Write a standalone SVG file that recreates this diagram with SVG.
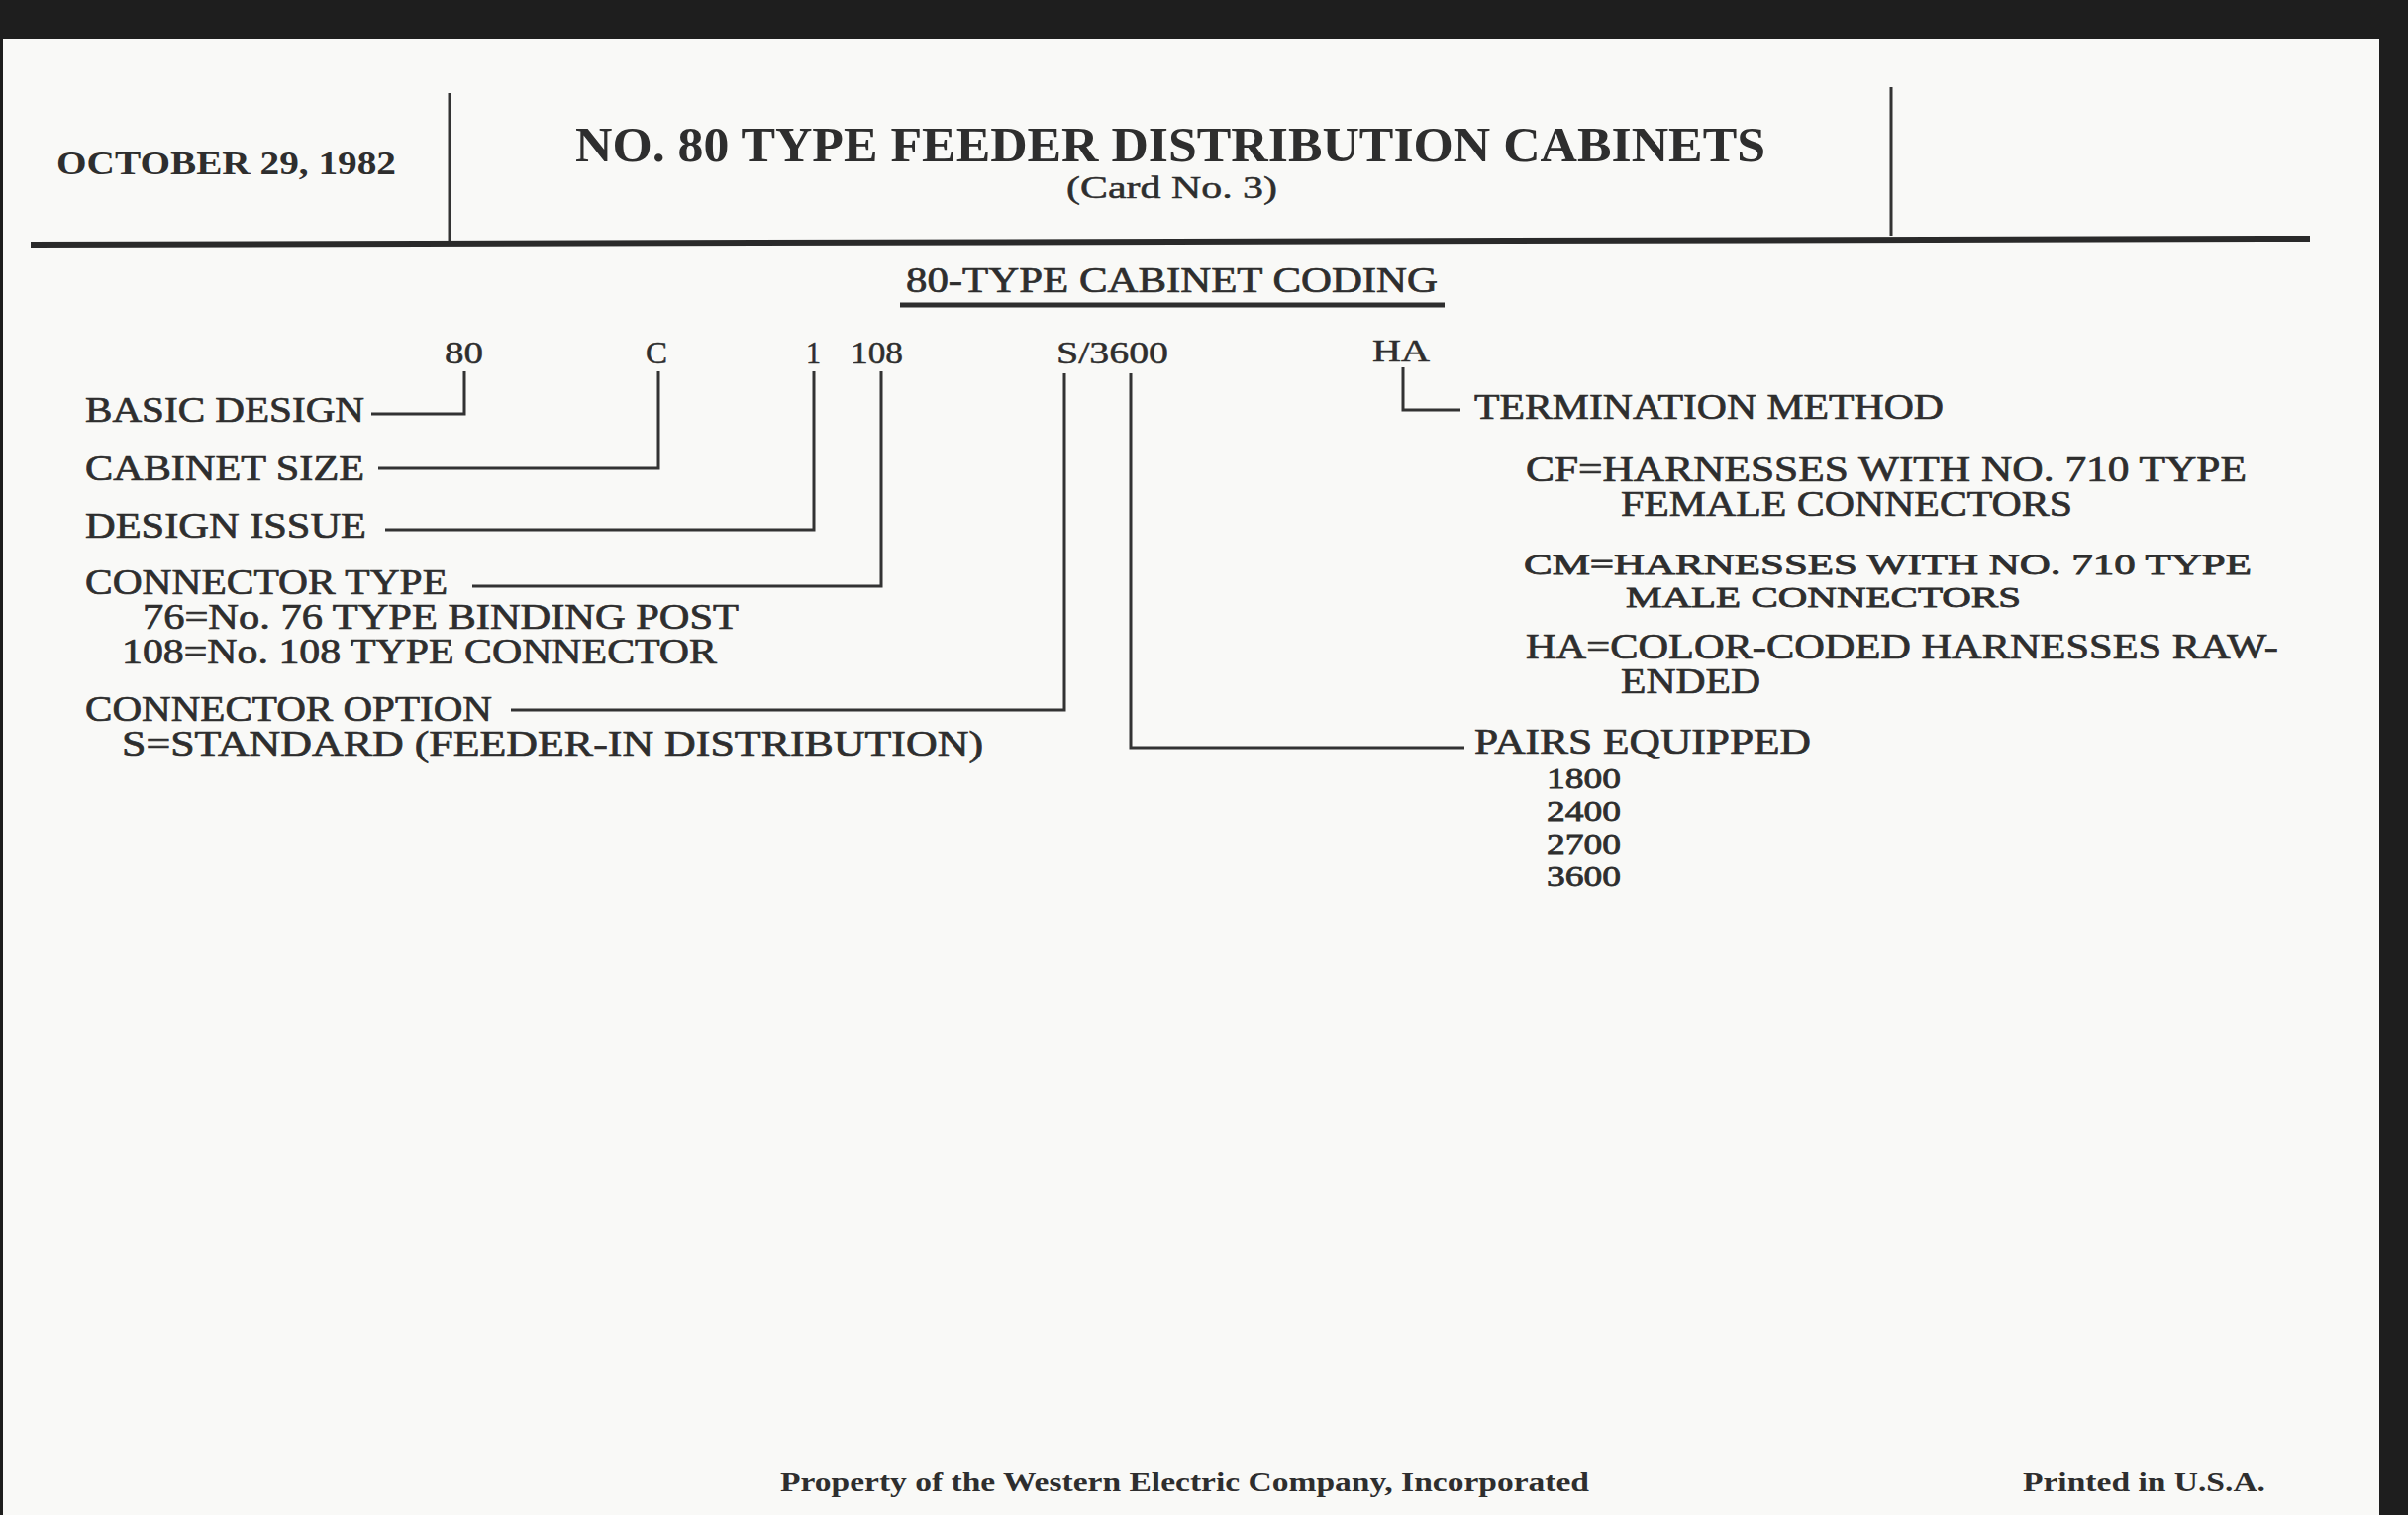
<svg xmlns="http://www.w3.org/2000/svg" width="2432" height="1530" viewBox="0 0 2432 1530">
<style>
text{font-family:"Liberation Serif","DejaVu Serif",serif;fill:#2e2e2e;}
.hd{font-weight:bold;}
.lb{font-size:35px;stroke:#2e2e2e;stroke-width:0.7px;}
.sm{font-size:29px;stroke:#2e2e2e;stroke-width:0.8px;}
.cd{font-size:32px;stroke:#2e2e2e;stroke-width:0.5px;}
.ft{font-weight:bold;font-size:28px;}
.ln{fill:none;stroke:#333;stroke-width:3;}
</style>
<rect x="0" y="0" width="2432" height="1530" fill="#1e1e1e"/>
<rect x="3" y="39" width="2400" height="1491" fill="#f9f9f7"/>
<g id="header">
<line x1="454" y1="94" x2="454" y2="243" class="ln"/>
<line x1="1910" y1="88" x2="1910" y2="238" class="ln"/>
<line x1="31" y1="247" x2="2333" y2="241" stroke="#2a2a2a" stroke-width="6"/>
<text class="hd" x="57" y="176" font-size="33" textLength="343" lengthAdjust="spacingAndGlyphs">OCTOBER 29, 1982</text>
<text class="hd" x="581" y="163" font-size="50" textLength="1202" lengthAdjust="spacingAndGlyphs">NO. 80 TYPE FEEDER DISTRIBUTION CABINETS</text>
<text x="1077" y="200" font-size="31" stroke="#2e2e2e" stroke-width="0.5" textLength="213" lengthAdjust="spacingAndGlyphs">(Card No. 3)</text>
</g>
<g id="coding-title">
<text x="915" y="295" font-size="35" stroke="#2e2e2e" stroke-width="0.7" textLength="537" lengthAdjust="spacingAndGlyphs">80-TYPE CABINET CODING</text>
<line x1="909" y1="308" x2="1459" y2="308" stroke="#2e2e2e" stroke-width="5"/>
</g>
<g id="connectors">
<path class="ln" d="M469,375 V418 H375"/>
<path class="ln" d="M665,375 V473 H382"/>
<path class="ln" d="M822,375 V535 H389"/>
<path class="ln" d="M890,375 V592 H477"/>
<path class="ln" d="M1075,377 V717 H516"/>
<path class="ln" d="M1142,377 V755 H1479"/>
<path class="ln" d="M1417,371 V414 H1475"/>
</g>
<g id="code-80"><text class="cd" x="449" y="367" textLength="39" lengthAdjust="spacingAndGlyphs">80</text></g>
<g id="code-C"><text class="cd" x="652" y="367" textLength="22" lengthAdjust="spacingAndGlyphs">C</text></g>
<g id="code-1"><text class="cd" x="814" y="367" textLength="15" lengthAdjust="spacingAndGlyphs">1</text></g>
<g id="code-108"><text class="cd" x="859" y="367" textLength="53" lengthAdjust="spacingAndGlyphs">108</text></g>
<g id="code-S3600"><text class="cd" x="1067" y="367" textLength="113" lengthAdjust="spacingAndGlyphs">S/3600</text></g>
<g id="code-HA"><text class="cd" x="1386" y="365" textLength="58" lengthAdjust="spacingAndGlyphs">HA</text></g>
<g id="basic-design"><text class="lb" x="86" y="426" textLength="282" lengthAdjust="spacingAndGlyphs">BASIC DESIGN</text></g>
<g id="cabinet-size"><text class="lb" x="86" y="485" textLength="282" lengthAdjust="spacingAndGlyphs">CABINET SIZE</text></g>
<g id="design-issue"><text class="lb" x="86" y="543" textLength="284" lengthAdjust="spacingAndGlyphs">DESIGN ISSUE</text></g>
<g id="connector-type">
<text class="lb" x="86" y="600" textLength="366" lengthAdjust="spacingAndGlyphs">CONNECTOR TYPE</text>
<text class="lb" x="144" y="635" textLength="602" lengthAdjust="spacingAndGlyphs">76=No. 76 TYPE BINDING POST</text>
<text class="lb" x="123" y="670" textLength="601" lengthAdjust="spacingAndGlyphs">108=No. 108 TYPE CONNECTOR</text>
</g>
<g id="connector-option">
<text class="lb" x="86" y="728" textLength="411" lengthAdjust="spacingAndGlyphs">CONNECTOR OPTION</text>
<text class="lb" x="123" y="763" textLength="870" lengthAdjust="spacingAndGlyphs">S=STANDARD (FEEDER-IN DISTRIBUTION)</text>
</g>
<g id="termination-method">
<text class="lb" x="1489" y="423" textLength="474" lengthAdjust="spacingAndGlyphs">TERMINATION METHOD</text>
<text class="lb" x="1541" y="486" textLength="728" lengthAdjust="spacingAndGlyphs">CF=HARNESSES WITH NO. 710 TYPE</text>
<text class="lb" x="1637" y="521" textLength="456" lengthAdjust="spacingAndGlyphs">FEMALE CONNECTORS</text>
<text class="sm" x="1539" y="580" textLength="735" lengthAdjust="spacingAndGlyphs">CM=HARNESSES WITH NO. 710 TYPE</text>
<text class="sm" x="1642" y="613" textLength="399" lengthAdjust="spacingAndGlyphs">MALE CONNECTORS</text>
<text class="lb" x="1541" y="665" textLength="760" lengthAdjust="spacingAndGlyphs">HA=COLOR-CODED HARNESSES RAW-</text>
<text class="lb" x="1637" y="700" textLength="141" lengthAdjust="spacingAndGlyphs">ENDED</text>
</g>
<g id="pairs-equipped">
<text class="lb" x="1489" y="761" textLength="340" lengthAdjust="spacingAndGlyphs">PAIRS EQUIPPED</text>
<text class="sm" x="1562" y="796" textLength="75" lengthAdjust="spacingAndGlyphs">1800</text>
<text class="sm" x="1562" y="829" textLength="75" lengthAdjust="spacingAndGlyphs">2400</text>
<text class="sm" x="1562" y="862" textLength="75" lengthAdjust="spacingAndGlyphs">2700</text>
<text class="sm" x="1562" y="895" textLength="75" lengthAdjust="spacingAndGlyphs">3600</text>
</g>
<g id="footer">
<text class="ft" x="788" y="1506" textLength="817" lengthAdjust="spacingAndGlyphs">Property of the Western Electric Company, Incorporated</text>
<text class="ft" x="2043" y="1506" textLength="245" lengthAdjust="spacingAndGlyphs">Printed in U.S.A.</text>
</g>
</svg>
